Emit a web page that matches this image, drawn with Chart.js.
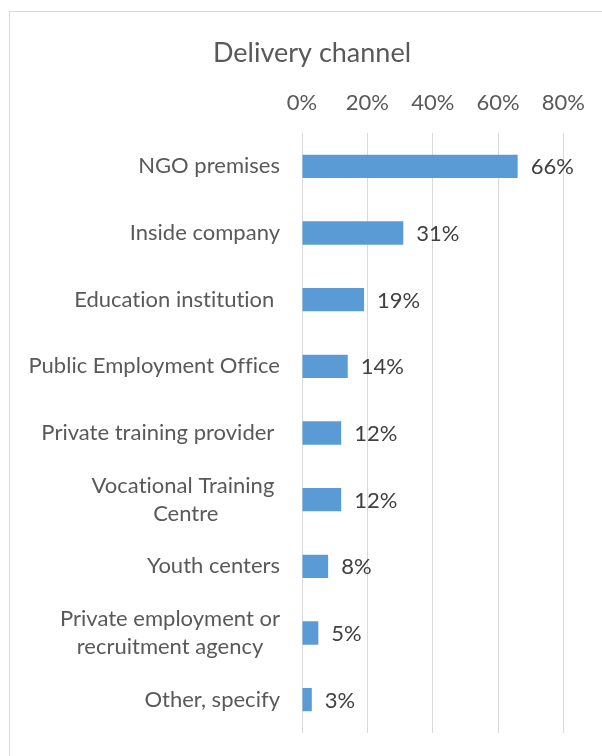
<!DOCTYPE html>
<html>
<head>
<meta charset="utf-8">
<title>Delivery channel</title>
<script src="https://cdn.jsdelivr.net/npm/chart.js@4.4.1/dist/chart.umd.min.js"></script>
<style>
  html, body { margin: 0; padding: 0; background: #fff; overflow: hidden; }
  #frame {
    position: absolute; left: 9px; top: 11px;
    width: 700px; height: 800px;
    border: 1px solid #d9d9d9;
  }
  #chart { position: absolute; left: 0; top: 0; }
</style>
</head>
<body>
<div id="frame"></div>
<canvas id="chart" width="602" height="756"></canvas>
<script>
const CATEGORIES = [
  "NGO premises",
  "Inside company",
  "Education institution ",
  "Public Employment Office",
  "Private training provider ",
  ["Vocational Training ", "Centre"],
  "Youth centers",
  ["Private employment or", "recruitment agency"],
  "Other, specify"
];
const SHARES = [66, 31, 19, 14, 12, 12, 8, 5, 3];
const X_TICKS = [0, 20, 40, 60, 80];

const FONT = "Lato, 'Open Sans', sans-serif";
const LABEL_SIZE = 22;
const TITLE_SIZE = 27;
const GREY = "#595959";

// category labels: right-aligned block, each line centred inside it
const categoryLabels = {
  id: "categoryLabels",
  afterDraw(chart) {
    const { ctx, chartArea } = chart;
    const yScale = chart.scales.y;
    const right = chartArea.left - 22;
    const lineH = 28;
    ctx.save();
    ctx.font = `${LABEL_SIZE}px ${FONT}`;
    ctx.letterSpacing = "0.01px"; // keeps "ti" from turning into a ligature
    ctx.fillStyle = GREY;
    ctx.textAlign = "center";
    ctx.textBaseline = "middle";
    CATEGORIES.forEach((label, i) => {
      const lines = Array.isArray(label) ? label : [label];
      const w = Math.max(...lines.map(l => ctx.measureText(l).width));
      const cx = right - w / 2;
      const y0 = yScale.getPixelForTick(i) - (lines.length - 1) * lineH / 2;
      lines.forEach((l, k) => ctx.fillText(l, cx, y0 + k * lineH));
    });
    ctx.restore();
  }
};

// percentage next to each bar
const valueLabels = {
  id: "valueLabels",
  afterDatasetsDraw(chart) {
    const { ctx } = chart;
    const meta = chart.getDatasetMeta(0);
    ctx.save();
    ctx.font = `${LABEL_SIZE}px ${FONT}`;
    ctx.fillStyle = "#404040";
    ctx.textAlign = "left";
    ctx.textBaseline = "middle";
    meta.data.forEach((bar, i) => {
      ctx.fillText(SHARES[i] + "%", bar.x + 13, bar.y + 1);
    });
    ctx.restore();
  }
};

new Chart(document.getElementById("chart").getContext("2d"), {
  type: "bar",
  data: {
    labels: CATEGORIES,
    datasets: [{
      data: SHARES,
      backgroundColor: "#5b9bd5",
      barPercentage: 0.35,
      categoryPercentage: 1
    }]
  },
  options: {
    indexAxis: "y",
    responsive: false,
    animation: false,
    layout: { padding: { left: 60, right: 38, top: 0, bottom: 23 } },
    plugins: {
      legend: { display: false },
      tooltip: { enabled: false },
      title: {
        display: true,
        text: "Delivery channel",
        color: GREY,
        font: { family: FONT, size: TITLE_SIZE, weight: "normal" },
        padding: { top: 37, bottom: 0 }
      }
    },
    scales: {
      x: {
        position: "top",
        min: 0,
        max: 80,
        afterBuildTicks: scale => {
          scale.ticks = X_TICKS.map(v => ({ value: v }));
        },
        afterFit: scale => {
          scale.height = 133 - (37 + TITLE_SIZE * 1.2);
        },
        grid: { color: "#d9d9d9", lineWidth: 1, drawTicks: false },
        border: { display: false },
        ticks: {
          color: GREY,
          padding: 17,
          font: { family: FONT, size: LABEL_SIZE },
          callback: v => v + "%"
        }
      },
      y: {
        afterFit: scale => { scale.width = 242; },
        grid: { display: false },
        border: { display: false },
        ticks: { display: false }
      }
    }
  },
  plugins: [categoryLabels, valueLabels]
});
</script>
</body>
</html>
